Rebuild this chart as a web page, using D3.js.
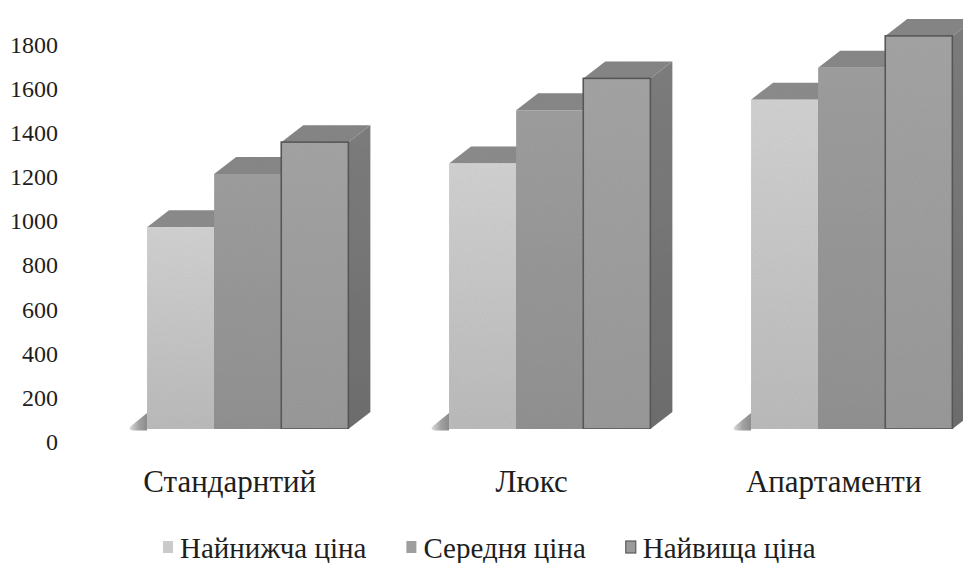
<!DOCTYPE html>
<html>
<head>
<meta charset="utf-8">
<script src="https://cdn.jsdelivr.net/npm/d3@7"></script>
<style>
  html, body { margin: 0; padding: 0; background: #fff; }
  svg { display: block; }
</style>
</head>
<body>
<svg id="chart" width="963" height="563"></svg>
<script>
// Room categories and price series
const categories = ["Стандарнтий", "Люкс", "Апартаменти"];
const seriesNames = ["Найнижча ціна", "Середня ціна", "Найвища ціна"];
const lowest  = [950, 1250, 1550];
const average = [1200, 1500, 1700];
const highest = [1350, 1650, 1850];
const tickValues = [0, 200, 400, 600, 800, 1000, 1200, 1400, 1600, 1800];

const FONT = "'Liberation Serif', 'Times New Roman', Tinos, 'DejaVu Serif', serif";
const svg = d3.select("#chart");

// depth offset of the 3D boxes
const DX = 22, DY = 17;

const x0 = d3.scaleBand().domain(categories).range([96.7, 1002.7])
  .paddingInner(1 / 3).paddingOuter(1 / 6);
const x1 = d3.scaleBand().domain(seriesNames).range([0, x0.bandwidth()]).padding(0);

// value scale for the front faces of the columns
const y = d3.scaleLinear().domain([0, 1800]).range([429, 46.5]);
// value scale of the axis on the back wall
const yAxisScale = d3.scaleLinear().domain([0, 1800]).range([441.5, 45]);

const defs = svg.append("defs");

function vGrad(id, top, bottom) {
  const g = defs.append("linearGradient").attr("id", id)
    .attr("x1", 0).attr("y1", 0).attr("x2", 0).attr("y2", 1);
  g.append("stop").attr("offset", "0%").attr("stop-color", top);
  g.append("stop").attr("offset", "100%").attr("stop-color", bottom);
}
vGrad("front0", "#d4d4d4", "#bdbdbd");
vGrad("front1", "#a0a0a0", "#939393");
vGrad("front2", "#a6a6a6", "#9b9b9b");
vGrad("side2", "#808080", "#707070");

const floorGrad = defs.append("linearGradient").attr("id", "floorGrad")
  .attr("x1", 0).attr("y1", 0).attr("x2", 1).attr("y2", 0);
floorGrad.append("stop").attr("offset", "0%").attr("stop-color", "#dcdcdc");
floorGrad.append("stop").attr("offset", "55%").attr("stop-color", "#a0a0a0");
floorGrad.append("stop").attr("offset", "100%").attr("stop-color", "#8c8c8c");

// fine grain on the column faces
const grain = defs.append("filter").attr("id", "grain")
  .attr("x", 0).attr("y", 0).attr("width", 1).attr("height", 1);
grain.append("feTurbulence").attr("type", "fractalNoise")
  .attr("baseFrequency", 0.9).attr("numOctaves", 2).attr("seed", 3).attr("result", "noise");
grain.append("feColorMatrix").attr("in", "noise").attr("type", "matrix")
  .attr("values", "0 0 0 0 0  0 0 0 0 0  0 0 0 0 0  0 0 0 0.12 0").attr("result", "dots");
grain.append("feComposite").attr("in", "dots").attr("in2", "SourceGraphic").attr("operator", "in").attr("result", "dotsIn");
grain.append("feMerge").selectAll("feMergeNode").data(["SourceGraphic", "dotsIn"]).join("feMergeNode")
  .attr("in", d => d);

const fronts = ["url(#front0)", "url(#front1)", "url(#front2)"];
const tops = ["#8e8e8e", "#8a8a8a", "#888888"];
const sides = ["#808080", "#7d7d7d", "url(#side2)"];
const outlines = [null, null, "#5a5a5a"];
const legendFill = ["#cacaca", "#9e9e9e", "#9a9a9a"];

const data = categories.map((c, i) => ({
  cat: c,
  values: [lowest[i], average[i], highest[i]]
}));

// floor edge on the left of every group
const floor = svg.append("g");
data.forEach(d => {
  const xl = x0(d.cat);
  const yb = y(0);
  floor.append("path")
    .attr("d", `M${xl},${yb - DY + 1} L${xl - 16},${yb - 3} Q${xl - 20},${yb + 1} ${xl - 14},${yb + 1.5} L${xl},${yb + 1.5} Z`)
    .attr("fill", "url(#floorGrad)");
});

// columns, left to right so that each box hides the side of the previous one
const bars = svg.append("g").attr("filter", "url(#grain)");
data.forEach(d => {
  d.values.forEach((v, j) => {
    const name = seriesNames[j];
    const xl = x0(d.cat) + x1(name);
    const xr = xl + x1.bandwidth();
    const yt = y(v), yb = y(0);
    const g = bars.append("g");
    // top face
    g.append("path")
      .attr("d", `M${xl},${yt} L${xl + DX},${yt - DY} L${xr + DX},${yt - DY} L${xr},${yt} Z`)
      .attr("fill", tops[j]);
    // side face
    g.append("path")
      .attr("d", `M${xr},${yt} L${xr + DX},${yt - DY} L${xr + DX},${yb - DY} L${xr},${yb} Z`)
      .attr("fill", sides[j]);
    // front face
    g.append("rect")
      .attr("x", xl).attr("y", yt)
      .attr("width", x1.bandwidth()).attr("height", yb - yt)
      .attr("fill", fronts[j])
      .attr("stroke", outlines[j] || "none")
      .attr("stroke-width", outlines[j] ? 1.6 : 0);
  });
});

// value axis
const axis = svg.append("g")
  .attr("transform", "translate(58,0)")
  .call(d3.axisLeft(yAxisScale).tickValues(tickValues).tickSize(0).tickPadding(0).tickFormat(d3.format("d")));
axis.attr("font-family", FONT).attr("font-size", 24);
axis.select(".domain").remove();
axis.selectAll("text")
  .attr("font-family", FONT)
  .attr("font-size", 24)
  .attr("fill", "#1e1e1e");

// category labels
svg.append("g").selectAll("text").data(categories).join("text")
  .attr("x", d => x0(d) + x0.bandwidth() / 2 - 18)
  .attr("y", 492)
  .attr("text-anchor", "middle")
  .attr("font-family", FONT)
  .attr("font-size", 31)
  .attr("fill", "#1e1e1e")
  .text(d => d);

// legend
const legend = svg.append("g");
let lx = 163;
seriesNames.forEach((name, j) => {
  legend.append("rect")
    .attr("x", lx).attr("y", 541).attr("width", 10).attr("height", 12)
    .attr("fill", legendFill[j])
    .attr("stroke", outlines[j] || "none").attr("stroke-width", outlines[j] ? 1.2 : 0);
  const t = legend.append("text")
    .attr("x", lx + 17).attr("y", 558)
    .attr("font-family", FONT)
    .attr("font-size", 29)
    .attr("fill", "#1e1e1e")
    .text(name);
  lx += 17 + t.node().getComputedTextLength() + 40;
});
</script>
</body>
</html>
